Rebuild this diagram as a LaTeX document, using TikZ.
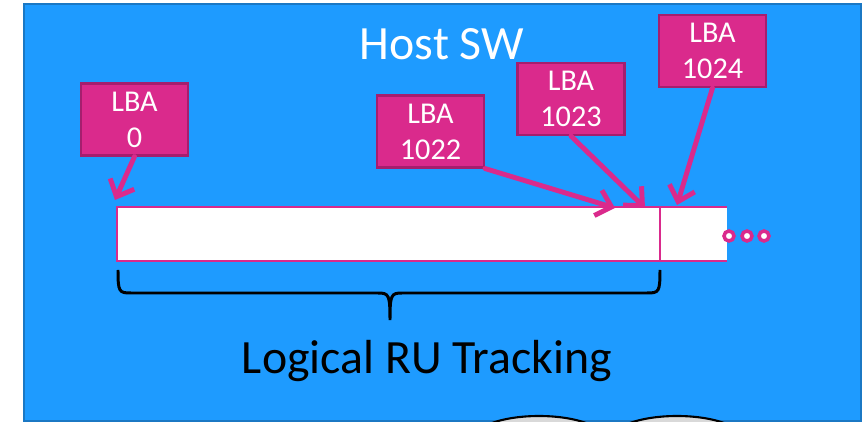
\documentclass[tikz,border=0pt]{standalone}
\usepackage{fontspec}
\setmainfont{Carlito}
\usetikzlibrary{arrows.meta}
\definecolor{hostblue}{HTML}{1E9BFF}
\definecolor{hostedge}{HTML}{1B78C4}
\definecolor{lbapink}{HTML}{DA2A8C}
\definecolor{lbaedge}{HTML}{A51E6E}
\definecolor{diskgray}{HTML}{D9D9D9}

\begin{document}
\begin{tikzpicture}[x=0.02cm, y=-0.02cm, >={Straight Barb[length=8pt,width=15pt]},
  every node/.style={font=\fontsize{17.2}{20.4}\selectfont},
  lba/.style={draw=lbaedge, line width=1.2pt, fill=lbapink, text=white, align=center,
    minimum width=2.14cm, minimum height=1.44cm, inner sep=0pt},
  ptr/.style={->, draw=lbapink, line width=2.8pt, line cap=round},
  big/.style={font=\fontsize{27.2}{30}\selectfont, inner sep=0pt, anchor=base}]
\useasboundingbox (0,0) rectangle (867,422);
\begin{scope}
\clip (0,0) rectangle (867,422);
\draw[hostedge, fill=hostblue, line width=1.2pt] (24,4) rectangle (861,421);
\draw[fill=diskgray, line width=1.2pt] (539,441) ellipse [x radius=68, y radius=25];
\draw[fill=diskgray, line width=1.2pt] (677,441) ellipse [x radius=68, y radius=25];
\end{scope}

\node[big, text=white] (host) at (442,60) {Host SW};

% LBA track
\fill[white] (117,207) rectangle (727,261);
\draw[lbapink, line width=1.2pt] (727,207) -- (117,207) -- (117,261) -- (727,261);
\draw[lbapink, line width=1.2pt] (660,207) -- (660,261);
\foreach \x in {729,747,764}
  \draw[lbapink, line width=2pt, fill=white] (\x,236) circle [radius=5];

\node[lba] (lba0) at (134.5,119.5) {LBA\\0};
\node[lba] (lba1022) at (430.5,131.5) {LBA\\1022};
\node[lba] (lba1023) at (571,99) {LBA\\1023};
\node[lba] (lba1024) at (712.5,51) {LBA\\1024};

\coordinate (tip0) at (115,200);
\coordinate (tip1022) at (615,208);
\coordinate (tip1023) at (645,208);
\coordinate (tip1024) at (677,205);
\draw[ptr] (lba0.south) -- (tip0);
\draw[ptr] (lba1022.south east) -- (tip1022);
\draw[ptr] (lba1023.south) -- (tip1023);
\draw[ptr] (lba1024.south) -- (tip1024);

% brace
\draw[line width=1.7pt] (118,270) .. controls (118,292) and (119,293) .. (131,293) -- (378,293)
  .. controls (389,293) and (390,295) .. (390,320)
  .. controls (390,295) and (391,293) .. (402,293) -- (647,293)
  .. controls (659,293) and (660,292) .. (660,270);

\node[big] (ru) at (427,374) {Logical RU Tracking};
\end{tikzpicture}
\end{document}
